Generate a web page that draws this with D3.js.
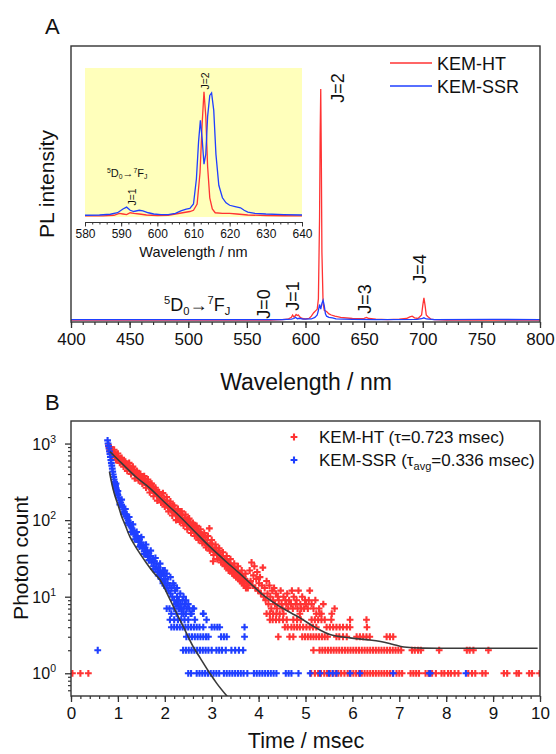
<!DOCTYPE html>
<html><head><meta charset="utf-8">
<script src="https://cdn.jsdelivr.net/npm/d3@7"></script>
<style>
body{margin:0;background:#fff}
text{font-family:"Liberation Sans",Arial,Helvetica,sans-serif;fill:#111}
</style>
</head><body>
<svg id="c" width="556" height="754"></svg>
<script>
// ---------- Panel A : PL spectra (normalised intensity) ----------
const wlHT  = [400,450,500,550,570,580,585,588,589,590,591,592,593,594,595,597,600,603,605,607,609,610,611,612,612.5,613,613.5,614,615,616,618,620,622,625,630,640,648,650,652,654,660,670,680,686,689,691,693,696,699,700,701,702,703,704,705,707,710,720,750,800];
const intHT = [0.008,0.008,0.008,0.008,0.008,0.01,0.012,0.02,0.03,0.022,0.025,0.032,0.028,0.03,0.022,0.015,0.013,0.015,0.025,0.04,0.05,0.055,0.1,0.45,0.8,1.0,0.7,0.3,0.08,0.05,0.045,0.035,0.03,0.025,0.02,0.015,0.014,0.016,0.02,0.015,0.012,0.01,0.012,0.015,0.022,0.025,0.018,0.015,0.03,0.07,0.104,0.07,0.03,0.025,0.02,0.012,0.01,0.008,0.008,0.008];
const wlSSR  = [400,450,500,560,580,588,590,591.5,593,595,598,605,608,610,611,612,613,614,615,616,617,618,620,623,626,640,660,695,699,701,703,710,760,800];
const intSSR = [0.01,0.01,0.01,0.01,0.01,0.012,0.015,0.02,0.014,0.016,0.012,0.013,0.02,0.03,0.05,0.075,0.055,0.08,0.093,0.07,0.035,0.025,0.02,0.018,0.013,0.011,0.01,0.011,0.014,0.018,0.013,0.01,0.011,0.01];
// inset (each normalised separately)
const inWlHT  = [580,585,588,589.5,590.5,591.5,592.5,593.5,595,597,600,603,605,607,609,610,611,611.8,612.4,612.9,613.4,613.9,614.5,615.2,616,618,620,622,625,630,635,640];
const inHT    = [0.005,0.005,0.01,0.025,0.02,0.015,0.03,0.025,0.02,0.012,0.008,0.01,0.02,0.03,0.04,0.05,0.1,0.35,0.75,1.0,0.8,0.4,0.15,0.06,0.03,0.025,0.025,0.02,0.012,0.008,0.006,0.005];
const inWlSSR = [580,584,587,589,590.5,591.5,592.5,593.5,595,596,597.5,599,601,603,605,606.5,608,609,610,610.8,611.4,611.9,612.4,612.9,613.4,613.9,614.5,615,615.6,616.2,617,618,619,620,621.5,623,624,625,627,630,635,640];
const inSSR   = [0.01,0.012,0.018,0.03,0.06,0.075,0.05,0.04,0.05,0.045,0.03,0.02,0.015,0.015,0.025,0.045,0.06,0.065,0.1,0.3,0.6,0.77,0.62,0.42,0.5,0.8,0.97,0.99,0.85,0.5,0.25,0.15,0.11,0.09,0.08,0.07,0.05,0.035,0.025,0.02,0.015,0.012];
const mainTicks  = [400,450,500,550,600,650,700,750,800];
const insetTicks = [580,590,600,610,620,630,640];
const seriesNames = ["KEM-HT","KEM-SSR"];
const jLabels = [{t:"J=0",wl:564},{t:"J=1",wl:589},{t:"J=2",wl:627},{t:"J=3",wl:650},{t:"J=4",wl:697}];

// ---------- Panel B : decay (time msec, photon count) ----------
const htDecay = [[0.80,950],[0.81,900],[0.82,860],[0.83,820],[0.85,760],[0.87,820],[0.89,730],[0.91,770],[0.93,690],[0.95,730],[0.97,670],[0.99,640],[1.01,670],[1.03,600],[1.05,640],[1.07,580],[1.09,610],[1.11,550],[1.13,585],[1.15,530],[1.17,510],[1.19,540],[1.21,490],[1.23,470],[1.25,505],[1.27,450],[1.29,480],[1.31,430],[1.33,420],[1.35,455],[1.37,400],[1.39,390],[1.41,425],[1.43,370],[1.45,360],[1.47,395],[1.49,340],[1.51,335],[1.53,370],[1.55,320],[1.57,310],[1.59,345],[1.61,290],[1.63,315],[1.65,280],[1.67,270],[1.69,300],[1.71,255],[1.73,245],[1.75,275],[1.77,235],[1.79,228],[1.81,248],[1.83,212],[1.85,208],[1.87,232],[1.89,195],[1.91,188],[1.93,210],[1.95,178],[1.97,172],[1.99,185],[2.01,162],[2.03,158],[2.05,180],[2.07,150],[2.09,145],[2.11,165],[2.13,138],[2.15,134],[2.17,155],[2.19,125],[2.21,140],[2.23,120],[2.25,116],[2.27,135],[2.29,110],[2.31,106],[2.33,122],[2.35,100],[2.37,116],[2.39,96],[2.41,92],[2.43,108],[2.45,100],[2.47,86],[2.49,102],[2.51,84],[2.53,82],[2.55,94],[2.57,77],[2.59,75],[2.61,88],[2.63,71],[2.65,68],[2.67,80],[2.69,63],[2.71,74],[2.73,60],[2.75,68],[2.77,57],[2.79,65],[2.81,54],[2.83,60],[2.85,50],[2.87,61],[2.89,48],[2.91,55],[2.93,45],[2.95,78],[2.97,50],[2.99,42],[3.01,48],[3.03,29],[3.05,41],[3.07,38],[3.09,44],[3.11,36],[3.13,35],[3.15,40],[3.17,32],[3.19,35],[3.21,30],[3.23,34],[3.25,28],[3.27,31],[3.29,26],[3.31,30],[3.33,25],[3.35,28],[3.37,23],[3.39,27],[3.41,22],[3.43,25],[3.45,21],[3.47,24],[3.49,19],[3.51,22],[3.53,18],[3.55,21],[3.57,17],[3.59,20],[3.61,16],[3.63,19],[3.65,15],[3.67,18],[3.69,14],[3.71,17],[3.73,13],[3.75,16],[3.77,13],[3.79,15],[3.81,22],[3.83,16],[3.85,28],[3.87,14],[3.89,19],[3.91,25],[3.93,13],[3.95,17],[3.97,21],[3.99,12],[4.01,15],[4.03,18],[4.05,11],[4.07,14],[4.09,24],[4.11,10],[4.13,13],[4.15,9],[4.17,16],[4.19,11],[4.21,8],[4.23,14],[4.25,10],[4.27,7],[4.29,12],[4.31,9],[4.33,13],[4.35,8],[4.37,11],[4.39,7],[4.41,10],[4.43,9],[4.47,12],[4.49,8],[4.51,7],[4.53,10],[4.57,9],[4.59,8],[4.61,11],[4.63,7],[4.65,9],[4.69,8],[4.71,12],[4.73,7],[4.75,10],[4.79,8],[4.81,9],[4.83,7],[4.85,12],[4.89,8],[4.91,7],[4.93,10],[4.97,7],[4.99,9],[5.01,8],[5.05,7],[5.07,9],[5.09,12],[5.13,8],[5.17,7],[5.21,9],[5.29,7],[5.38,8],[5.62,7]];
const htSpread = [[0.84,900],[0.88,680],[0.92,830],[0.96,610],[1.0,740],[1.04,560],[1.08,650],[1.12,500],[1.16,580],[1.2,440],[1.24,560],[1.28,400],[1.32,500],[1.36,350],[1.4,440],[1.44,330],[1.48,400],[1.52,300],[1.56,375],[1.6,265],[1.64,340],[1.68,230],[1.72,300],[1.76,205],[1.8,265],[1.84,180],[1.88,230],[1.92,170],[1.96,225],[2.0,150],[2.04,200],[2.08,130],[2.12,175],[2.16,115],[2.2,155],[2.24,100],[2.28,140],[2.32,95],[2.36,130],[2.4,85],[2.44,118],[2.48,76],[2.52,105],[2.56,68],[2.6,92],[2.64,62],[2.68,84],[2.72,55],[2.76,76],[2.8,50],[2.84,68],[2.88,44],[2.92,62],[2.96,40],[3.0,55],[3.04,35],[3.08,48],[3.12,31],[3.16,43],[3.2,28],[3.24,38],[3.28,25],[3.32,34],[3.36,22],[3.4,31],[3.44,20],[3.48,27],[3.52,18],[3.56,25],[3.6,17],[3.64,22],[3.68,15],[3.72,20],[3.76,14]];
const htC1 = [0.03,0.2,0.37,5.12,5.2,5.27,5.33,5.4,5.46,5.52,5.58,5.64,5.7,5.76,5.83,5.9,5.96,6.02,6.08,6.14,6.2,6.26,6.32,6.38,6.44,6.5,6.56,6.62,6.68,6.74,6.8,6.86,6.94,7.0,7.06,7.24,7.3,7.36,7.42,7.56,7.62,7.7,7.78,7.9,7.96,8.04,8.1,8.18,8.26,8.47,8.55,8.62,8.77,8.84,9.23,9.3,9.5,9.55,9.77,9.83,9.99];
const htC2 = [5.17,5.3,5.36,5.42,5.48,5.54,5.6,5.66,5.72,5.78,5.84,5.9,5.96,6.02,6.08,6.14,6.2,6.26,6.32,6.38,6.44,6.5,6.56,6.62,6.68,6.74,6.8,6.86,6.92,6.98,7.04,7.27,7.33,7.4,7.46,7.85,8.44,8.5,8.58,8.9];
const htC3 = [4.42,4.66,4.74,4.93,4.99,5.05,5.11,5.17,5.23,5.29,5.35,5.41,5.47,5.66,5.72,5.8,5.88,6.09,6.16,6.23,6.3,6.37,6.73,6.8,6.87];
const htC4 = [4.56,4.62,4.7,4.76,4.82,4.88,4.95,5.02,5.09,5.16,5.23,5.45,5.52,5.59,5.66,5.73,5.8,5.88,5.95,6.31];
const htC5 = [4.24,4.3,4.37,4.44,4.52,4.6,4.74,4.82,4.9,5.13,5.2,5.27,5.34,5.41,5.55,5.95,6.3];
const htC6 = [4.17,4.24,4.31,4.38,4.45,4.53,4.88,5.23,5.3,5.34,5.56];
const ssrDecay = [[0.57,2],[0.78,1100],[0.79,1000],[0.80,930],[0.81,860],[0.82,790],[0.83,730],[0.84,670],[0.85,610],[0.86,560],[0.87,515],[0.88,470],[0.89,430],[0.90,395],[0.91,365],[0.92,340],[0.93,315],[0.94,295],[0.95,280],[0.96,262],[0.97,248],[0.98,235],[0.99,222],[1.00,212],[1.02,196],[1.04,182],[1.06,170],[1.08,158],[1.10,148],[1.12,138],[1.14,128],[1.16,120],[1.18,112],[1.20,105],[1.22,99],[1.24,93],[1.26,87],[1.28,82],[1.30,78],[1.32,73],[1.34,69],[1.36,65],[1.38,61],[1.40,58],[1.42,62],[1.44,52],[1.46,56],[1.48,47],[1.50,51],[1.52,43],[1.54,47],[1.56,39],[1.58,44],[1.60,36],[1.62,40],[1.64,33],[1.66,37],[1.68,30],[1.70,34],[1.72,28],[1.74,31],[1.76,25],[1.78,29],[1.80,23],[1.82,27],[1.84,21],[1.86,24],[1.88,19],[1.90,22],[1.92,17],[1.94,20],[1.96,16],[1.98,19],[2.00,14],[2.02,17],[2.04,13],[2.06,15],[2.08,12],[2.10,14],[2.12,11],[2.14,13],[2.16,10],[2.18,15],[2.20,9],[2.22,12],[2.24,8],[2.26,10],[2.28,8],[2.30,9],[2.32,7],[2.34,8],[2.36,7],[2.38,9],[2.40,6],[2.43,8],[2.47,7],[2.55,6],[2.62,7],[2.82,6],[1.96,22],[2.04,20],[2.12,18],[2.2,14],[2.26,13],[2.33,11],[2.4,10],[2.45,9],[2.5,8]];
const ssrSpread = [[0.96,300],[1.0,240],[1.04,160],[1.08,185],[1.12,120],[1.16,140],[1.2,92],[1.24,110],[1.28,70],[1.32,88],[1.36,56],[1.4,70],[1.46,45],[1.5,60],[1.56,36],[1.6,48],[1.66,30],[1.7,40],[1.76,23],[1.8,32],[1.86,19],[1.9,27],[1.96,15],[2.0,22]];
const ssrC1 = [2.5,2.56,2.68,2.74,2.8,2.86,2.92,2.98,3.04,3.1,3.16,3.26,3.32,3.38,3.44,3.5,3.56,3.62,3.68,3.76,3.9,3.96,4.02,4.08,4.14,4.2,4.26,4.32,4.38,4.58,4.64,4.7,4.85,5.1,5.31,5.5,5.58,5.66,5.95,6.16,6.87,7.64,7.66,8.42];
const ssrC2 = [2.39,2.45,2.51,2.57,2.63,2.69,2.75,2.81,2.87,2.93,3.0,3.1,3.16,3.22,3.3,3.42,3.5,3.58,3.67];
const ssrC3 = [2.46,2.52,2.58,2.64,2.7,2.76,2.82,2.88,2.93,3.2,3.26,3.32,3.7];
const ssrC4 = [2.14,2.2,2.26,2.32,2.38,2.44,2.5,2.56,2.62,2.68,2.74,2.82,3.0,3.06,3.12,3.17,3.7];
const ssrC5 = [2.11,2.2,2.28,2.35,2.42,2.5,2.64,2.89];
const ssrC6 = [2.14,2.25,2.36,2.45,2.57,2.82];
const ssrC7 = [2.04,2.1,2.2,2.3,2.4,2.52,2.6];
const htFit  = [[0.83,785],[1.0,620],[1.2,470],[1.4,360],[1.68,262],[2.0,170],[2.3,115],[2.6,75],[2.96,45],[3.3,29],[3.6,20],[3.82,15],[4.1,10.5],[4.4,7.8],[4.88,5.3],[5.2,4],[5.52,3.2],[5.95,2.9],[6.3,2.75],[6.6,2.6],[6.85,2.4],[7.1,2.2],[7.5,2.13],[8,2.12],[9,2.12],[9.95,2.12]];
const ssrFit = [[0.82,430],[0.86,320],[0.9,250],[0.94,205],[1.0,160],[1.08,112],[1.15,88],[1.26,60],[1.35,48],[1.44,39],[1.6,28],[1.75,21],[1.9,16.5],[2.05,11],[2.25,6.1],[2.4,4],[2.61,2.2],[2.75,1.6],[2.96,1.0],[3.1,0.75],[3.33,0.5]];
const timeTicks = [0,1,2,3,4,5,6,7,8,9,10];
const decades = [0,1,2,3];

const RED = "#ff3333", BLUE = "#1f3fff", FIT = "#3a3a3a";
const svg = d3.select("#c");

// ================= Panel A =================
const ax = d3.scaleLinear().domain([400,800]).range([71,540]);
const ay = d3.scaleLinear().domain([0,1.185]).range([322,46]);
const gA = svg.append("g");
const lineA = (xs, ys) => d3.line().x((d,i)=>ax(xs[i])).y((d,i)=>ay(ys[i]))(xs);
gA.append("path").attr("d", lineA(wlHT,intHT)).attr("fill","none").attr("stroke",RED).attr("stroke-width",1.3);
gA.append("path").attr("d", lineA(wlSSR,intSSR)).attr("fill","none").attr("stroke",BLUE).attr("stroke-width",1.3);

gA.append("g").attr("transform","translate(0,322)")
  .call(d3.axisBottom(ax).tickValues(d3.range(400,801,10)).tickSize(3).tickFormat(""))
  .call(g=>g.select(".domain").remove()).call(g=>g.selectAll("line").attr("stroke","#333").attr("stroke-width",1.2));
gA.append("g").attr("transform","translate(0,322)")
  .call(d3.axisBottom(ax).tickValues(mainTicks).tickSize(6).tickPadding(5))
  .call(g=>g.select(".domain").remove())
  .call(g=>g.selectAll("line").attr("stroke","#333").attr("stroke-width",1.3))
  .call(g=>g.selectAll("text").attr("font-size",17).attr("font-family","Liberation Sans, Arial, sans-serif").attr("fill","#111"));
gA.append("rect").attr("x",71).attr("y",46).attr("width",469).attr("height",276).attr("fill","none").attr("stroke","#333").attr("stroke-width",1.4);

// inset
const ix = d3.scaleLinear().domain([580,640]).range([85,302]);
const iy = d3.scaleLinear().domain([0,1.19]).range([216.5,68]);
gA.append("rect").attr("x",85).attr("y",68).attr("width",217).attr("height",149).attr("fill","#ffffbb");
const lineI = (xs, ys) => d3.line().x((d,i)=>ix(xs[i])).y((d,i)=>iy(ys[i]))(xs);
gA.append("path").attr("d", lineI(inWlHT,inHT)).attr("fill","none").attr("stroke",RED).attr("stroke-width",1.3);
gA.append("path").attr("d", lineI(inWlSSR,inSSR)).attr("fill","none").attr("stroke",BLUE).attr("stroke-width",1.3);
gA.append("g").attr("transform","translate(0,222)")
  .call(d3.axisBottom(ix).tickValues(d3.range(580,641,2)).tickSize(2.5).tickFormat(""))
  .call(g=>g.select(".domain").remove()).call(g=>g.selectAll("line").attr("stroke","#333"));
gA.append("g").attr("transform","translate(0,222)")
  .call(d3.axisBottom(ix).tickValues(insetTicks).tickSize(4.5).tickSizeOuter(0).tickPadding(3))
  .call(g=>g.select(".domain").attr("stroke","#333").attr("stroke-width",1.2))
  .call(g=>g.selectAll("line").attr("stroke","#333"))
  .call(g=>g.selectAll("text").attr("font-size",12).attr("font-family","Liberation Sans, Arial, sans-serif").attr("fill","#111"));
gA.append("text").attr("x",193.5).attr("y",257).attr("text-anchor","middle").attr("font-size",14.5).text("Wavelength / nm");
gA.append("text").attr("transform",`translate(${ix(613.2)},81) rotate(-90)`).attr("text-anchor","middle").attr("dy","0.35em").attr("font-size",10.5).text("J=2");
gA.append("text").attr("transform",`translate(${ix(593)},197) rotate(-90)`).attr("text-anchor","middle").attr("dy","0.35em").attr("font-size",10.5).text("J=1");
function transition(sel, x, y, fs){
  const t = sel.append("text").attr("x",x).attr("y",y).attr("font-size",fs);
  const s = fs*0.62;
  t.append("tspan").attr("font-size",s).attr("dy",-fs*0.4).text("5");
  t.append("tspan").attr("dy",fs*0.4).text("D");
  t.append("tspan").attr("font-size",s).attr("dy",fs*0.22).text("0");
  t.append("tspan").attr("dy",-fs*0.22).text("\u2192");
  t.append("tspan").attr("font-size",s).attr("dy",-fs*0.4).text("7");
  t.append("tspan").attr("dy",fs*0.4).text("F");
  t.append("tspan").attr("font-size",s).attr("dy",fs*0.22).text("J");
}
transition(gA, 107, 177, 11);
transition(gA, 164, 311, 18);

jLabels.forEach(j=>{
  const yc = {"J=0":304,"J=1":296,"J=2":88,"J=3":299,"J=4":269}[j.t];
  gA.append("text").attr("transform",`translate(${ax(j.wl)},${yc}) rotate(-90)`).attr("text-anchor","middle").attr("dy","0.36em").attr("font-size",18).text(j.t);
});

// legend A
[[RED,63],[BLUE,86]].forEach((c,i)=>{
  gA.append("line").attr("x1",390).attr("x2",432).attr("y1",c[1]).attr("y2",c[1]).attr("stroke",c[0]).attr("stroke-width",1.4);
  gA.append("text").attr("x",437).attr("y",c[1]+6.5).attr("font-size",18).text(seriesNames[i]);
});
gA.append("text").attr("transform","translate(53.5,184) rotate(-90)").attr("text-anchor","middle").attr("font-size",21).text("PL intensity");
gA.append("text").attr("x",306).attr("y",390).attr("text-anchor","middle").attr("font-size",23).text("Wavelength / nm");
svg.append("text").attr("x",45).attr("y",34).attr("font-size",22).text("A");

// ================= Panel B =================
const bx = d3.scaleLinear().domain([0,10]).range([71,540]);
const by = d3.scaleLog().domain([0.505,1970]).range([696,421]);
const gB = svg.append("g");
svg.append("clipPath").attr("id","clipB").append("rect").attr("x",71).attr("y",421).attr("width",469).attr("height",275);
const plus = "M-3.4,0H3.4M0,-3.4V3.4";
function rows(arrs){ const out=[]; arrs.forEach(([c,ts])=>ts.forEach(t=>out.push([t,c]))); return out; }
const htPts  = htDecay.concat(htSpread, rows([[1,htC1],[2,htC2],[3,htC3],[4,htC4],[5,htC5],[6,htC6]]));
const ssrPts = ssrDecay.concat(ssrSpread, rows([[1,ssrC1],[2,ssrC2],[3,ssrC3],[4,ssrC4],[5,ssrC5],[6,ssrC6],[7,ssrC7]]));
const pts = gB.append("g").attr("clip-path","url(#clipB)");
pts.selectAll("path.h").data(htPts).join("path").attr("class","h")
  .attr("transform",d=>`translate(${bx(d[0])},${by(d[1])})`).attr("d",plus).attr("stroke",RED).attr("stroke-width",2.1);
pts.selectAll("path.s").data(ssrPts).join("path").attr("class","s")
  .attr("transform",d=>`translate(${bx(d[0])},${by(d[1])})`).attr("d",plus).attr("stroke",BLUE).attr("stroke-width",2.1);
const fitLine = d3.line().x(d=>bx(d[0])).y(d=>by(d[1])).curve(d3.curveMonotoneX);
pts.append("path").attr("d",fitLine(htFit)).attr("fill","none").attr("stroke",FIT).attr("stroke-width",1.6);
pts.append("path").attr("d",fitLine(ssrFit)).attr("fill","none").attr("stroke",FIT).attr("stroke-width",1.6);

// x axis
gB.append("g").attr("transform","translate(0,696)")
  .call(d3.axisBottom(bx).tickValues(d3.range(0,10.01,0.2)).tickSize(3).tickFormat(""))
  .call(g=>g.select(".domain").remove()).call(g=>g.selectAll("line").attr("stroke","#333").attr("stroke-width",1.2));
gB.append("g").attr("transform","translate(0,696)")
  .call(d3.axisBottom(bx).tickValues(timeTicks).tickSize(6).tickPadding(5).tickFormat(d3.format("d")))
  .call(g=>g.select(".domain").remove())
  .call(g=>g.selectAll("line").attr("stroke","#333").attr("stroke-width",1.3))
  .call(g=>g.selectAll("text").attr("font-size",17).attr("font-family","Liberation Sans, Arial, sans-serif").attr("fill","#111"));
// y axis (log)
const minorY = [];
[-1,0,1,2,3].forEach(d=>{ for(let m=2;m<=9;m++){ const v=m*Math.pow(10,d); if(v>=0.505&&v<=1970) minorY.push(v);} });
gB.append("g").attr("transform","translate(71,0)")
  .call(d3.axisLeft(by).tickValues(minorY).tickSize(3).tickFormat(""))
  .call(g=>g.select(".domain").remove()).call(g=>g.selectAll("line").attr("stroke","#333").attr("stroke-width",1.2));
gB.append("g").attr("transform","translate(71,0)")
  .call(d3.axisLeft(by).tickValues(decades.map(d=>Math.pow(10,d))).tickSize(6).tickFormat(""))
  .call(g=>g.select(".domain").remove()).call(g=>g.selectAll("line").attr("stroke","#333").attr("stroke-width",1.3));
decades.forEach(d=>{
  const t = gB.append("text").attr("x",56).attr("y",by(Math.pow(10,d))+6).attr("text-anchor","end").attr("font-size",16);
  t.append("tspan").text("10");
  t.append("tspan").attr("font-size",10.5).attr("dy",-7).text(String(d));
});
gB.append("rect").attr("x",71).attr("y",421).attr("width",469).attr("height",275).attr("fill","none").attr("stroke","#333").attr("stroke-width",1.4);

// legend B
gB.append("path").attr("transform","translate(294,437)").attr("d",plus).attr("stroke",RED).attr("stroke-width",2.1);
gB.append("path").attr("transform","translate(294,460)").attr("d",plus).attr("stroke",BLUE).attr("stroke-width",2.1);
gB.append("text").attr("x",319).attr("y",443).attr("font-size",17).text("KEM-HT (\u03c4=0.723 msec)");
const l2 = gB.append("text").attr("x",319).attr("y",466).attr("font-size",17);
l2.append("tspan").text("KEM-SSR (\u03c4");
l2.append("tspan").attr("font-size",11).attr("dy",4).text("avg");
l2.append("tspan").attr("dy",-4).text("=0.336 msec)");

gB.append("text").attr("transform","translate(28,558) rotate(-90)").attr("text-anchor","middle").attr("font-size",21).text("Photon count");
gB.append("text").attr("x",306).attr("y",748).attr("text-anchor","middle").attr("font-size",21.5).text("Time / msec");
svg.append("text").attr("x",45).attr("y",410).attr("font-size",22).text("B");
</script>
</body></html>
